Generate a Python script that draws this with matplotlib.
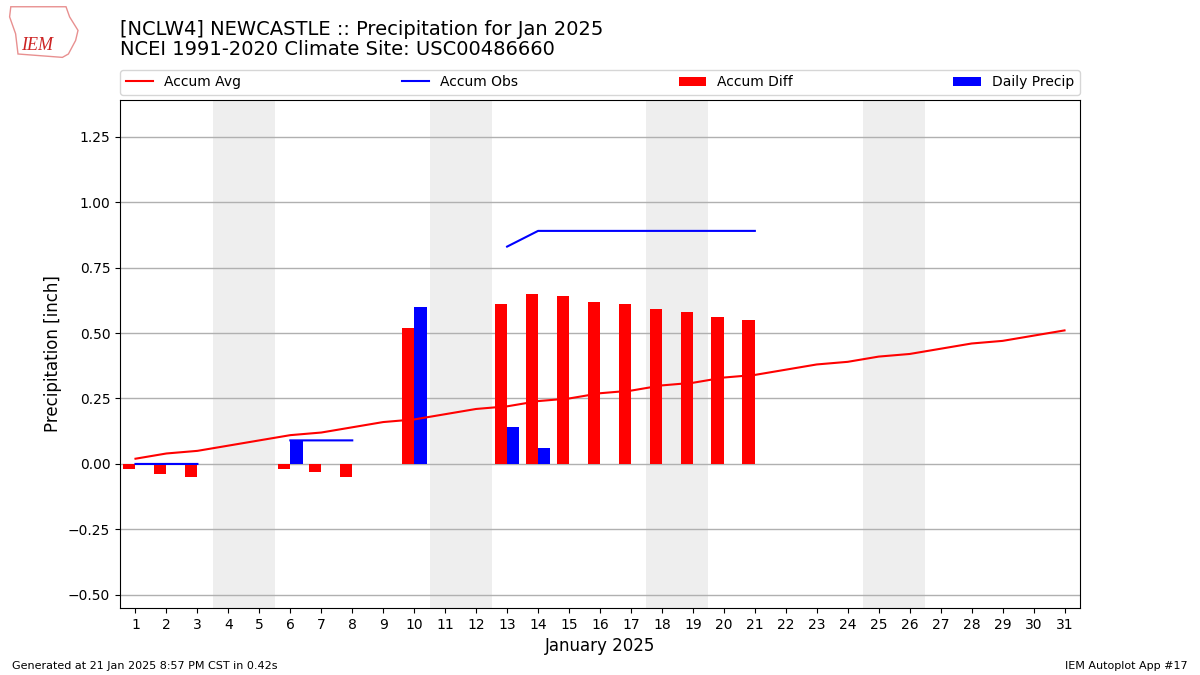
import numpy as np
import matplotlib
matplotlib.use("Agg")
import matplotlib.pyplot as plt
from matplotlib.patches import Polygon

# ── data ─────────────────────────────────────────────────────────────────────
days = list(range(1, 32))
accum_avg = [0.02, 0.04, 0.05, 0.07, 0.09, 0.11, 0.12, 0.14, 0.16, 0.17,
             0.19, 0.21, 0.22, 0.24, 0.25, 0.27, 0.28, 0.30, 0.31, 0.33,
             0.34, 0.36, 0.38, 0.39, 0.41, 0.42, 0.44, 0.46, 0.47, 0.49, 0.51]
nan = np.nan
accum_obs = [0.0, 0.0, 0.0, nan, nan, 0.09, 0.09, 0.09, nan, nan,
             nan, nan, 0.83, 0.89, 0.89, 0.89, 0.89, 0.89, 0.89, 0.89,
             0.89] + [nan] * 10
accum_diff = [-0.02, -0.04, -0.05, nan, nan, -0.02, -0.03, -0.05, nan, 0.52,
              nan, nan, 0.61, 0.65, 0.64, 0.62, 0.61, 0.59, 0.58, 0.56,
              0.55] + [nan] * 10
daily_precip = [0.0, 0.0, 0.0, nan, nan, 0.09, 0.0, 0.0, nan, 0.60,
                nan, nan, 0.14, 0.06, 0.0, 0.0, 0.0, 0.0, 0.0, 0.0,
                0.0] + [nan] * 10
weekends = [4, 11, 18, 25]

# ── figure ───────────────────────────────────────────────────────────────────
fig = plt.figure(figsize=(12, 6.75), dpi=100)
ax = fig.add_axes([0.1, 0.0993, 0.8, 0.7526])

for w in weekends:
    ax.axvspan(w - 0.5, w + 1.5, color="#eeeeee", zorder=0, lw=0)

ax.plot(days, accum_avg, color="r", label="Accum Avg", zorder=3)
ax.plot(days, accum_obs, color="b", label="Accum Obs", zorder=3)
ax.bar(days, accum_diff, width=-0.4, align="edge", color="r",
       label="Accum Diff", zorder=2)
ax.bar(days, daily_precip, width=0.4, align="edge", color="b",
       label="Daily Precip", zorder=2)

ax.set_xlim(0.5, 31.5)
ax.set_ylim(-0.55, 1.39)
ax.set_xticks(days)
ax.set_yticks([-0.5, -0.25, 0, 0.25, 0.5, 0.75, 1.0, 1.25])
ax.yaxis.grid(True, color="#b0b0b0", lw=1, zorder=1)
ax.set_axisbelow(True)
ax.set_xlabel("January 2025", fontsize=12)
ax.set_ylabel("Precipitation [inch]", fontsize=12)

ax.legend(loc="lower left", bbox_to_anchor=(0, 1.01, 1, 0.05), ncol=4,
          mode="expand", fontsize=10, borderaxespad=0, frameon=True)

fig.text(0.1, 0.957, "[NCLW4] NEWCASTLE :: Precipitation for Jan 2025",
         fontsize=14, va="center")
fig.text(0.1, 0.926, "NCEI 1991-2020 Climate Site: USC00486660",
         fontsize=14, va="center")

# rough logo: state outline + IEM
logo = Polygon([(0.009, 0.99), (0.055, 0.99), (0.058, 0.975), (0.065, 0.955),
                (0.063, 0.94), (0.057, 0.92), (0.052, 0.915), (0.015, 0.92),
                (0.013, 0.95), (0.008, 0.975)], closed=True, fill=False,
               ec="#e89090", lw=1, transform=fig.transFigure)
fig.patches.append(logo)
fig.text(0.031, 0.932, "IEM", color="#cc2222", fontsize=13,
         family="Liberation Serif", style="italic", va="center", ha="center")

fig.text(0.01, 0.0133, "Generated at 21 Jan 2025 8:57 PM CST in 0.42s",
         fontsize=8, va="center")
fig.text(0.99, 0.0133, "IEM Autoplot App #17", fontsize=8, ha="right",
         va="center")

fig.savefig("out.png", dpi=100)
